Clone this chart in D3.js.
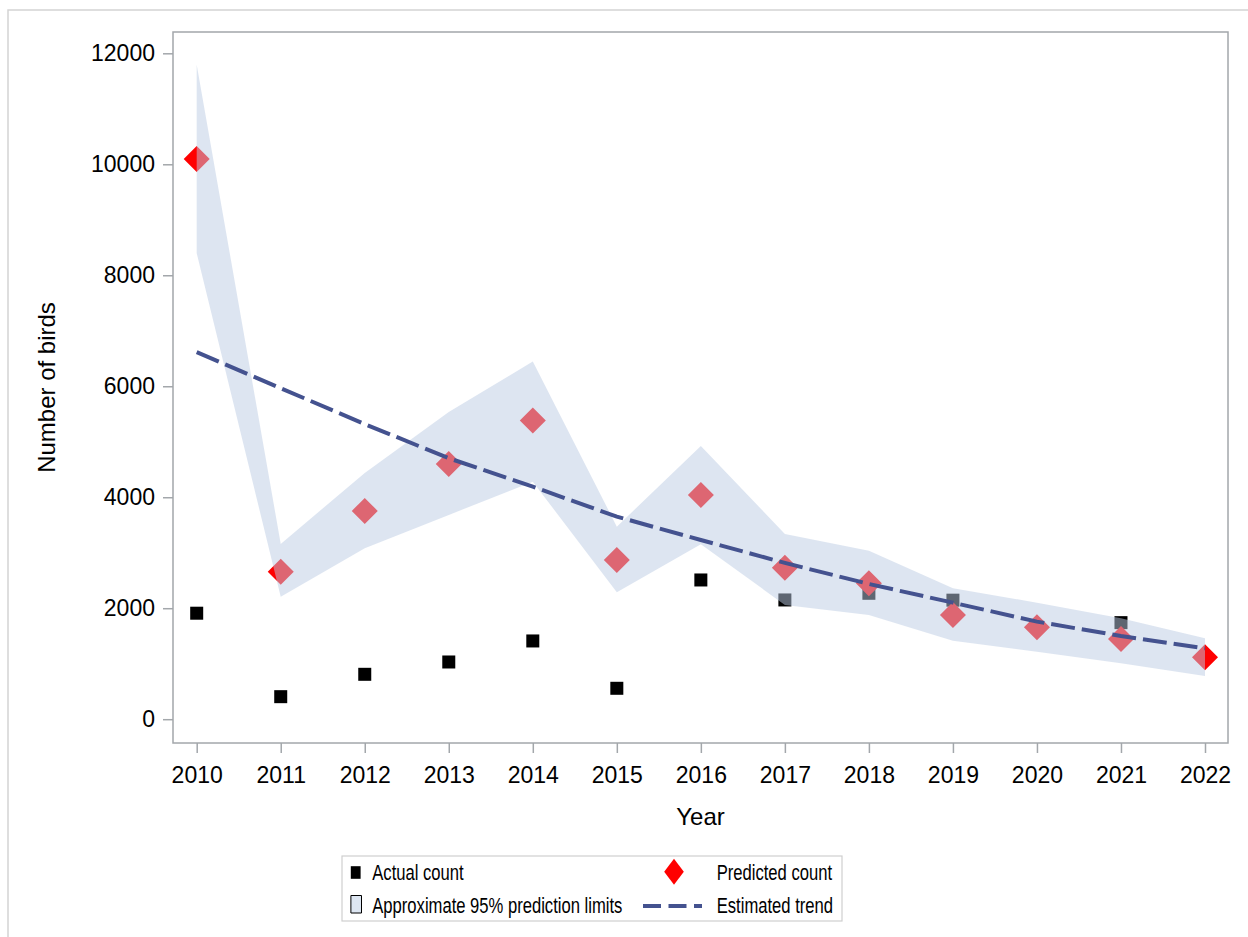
<!DOCTYPE html>
<html>
<head>
<meta charset="utf-8">
<script src="https://cdn.jsdelivr.net/npm/d3@7"></script>
<style>
  html, body { margin: 0; padding: 0; background: #fff; }
  svg { display: block; }
  text { font-family: "Liberation Sans", Arial, Helvetica, sans-serif; fill: #000; }
</style>
</head>
<body>
<svg id="chart" width="1248" height="937"></svg>
<script>
// Survey years and counts
const years = [2010, 2011, 2012, 2013, 2014, 2015, 2016, 2017, 2018, 2019, 2020, 2021, 2022];
const actualCount = [1910, 406, 809, 1031, 1410, 557, 2509, 2149, 2269, 2145, null, 1740, null];
const predictedCount = [10093, 2659, 3753, 4600, 5381, 2870, 4041, 2731, 2450, 1878, 1657, 1446, 1116];
const lowerLimit = [8398, 2208, 3081, 3681, 4281, 2288, 3153, 2059, 1878, 1415, 1217, 1008, 779];
const upperLimit = [11793, 3158, 4438, 5538, 6444, 3470, 4925, 3338, 3037, 2360, 2100, 1819, 1458];
const estimatedTrend = [6614, 5965, 5318, 4703, 4191, 3650, 3230, 2816, 2437, 2100, 1758, 1500, 1278];
const yTicks = [0, 2000, 4000, 6000, 8000, 10000, 12000];

const svg = d3.select("#chart");

// Plot frame
const frame = { left: 173, right: 1228, top: 32, bottom: 743 };
const axisGray = "#A3A7AB";

const x = d3.scaleLinear().domain([2010, 2022]).range([196.7, 1205]);
const y = d3.scaleLinear().domain([0, 12000]).range([719.2, 53.3]);

// Outer graph border
svg.append("rect")
  .attr("x", 8).attr("y", 10)
  .attr("width", 1400).attr("height", 1100)
  .attr("fill", "none").attr("stroke", "#D4D4D4").attr("stroke-width", 1.5);

// Axes
const yAxis = d3.axisLeft(y).tickValues(yTicks).tickSize(10).tickPadding(8).tickFormat(d3.format("d"));
const xAxis = d3.axisBottom(x).tickValues(years).tickSize(10).tickPadding(14).tickFormat(d3.format("d"));

const gy = svg.append("g").attr("transform", `translate(${frame.left},0)`).call(yAxis);
const gx = svg.append("g").attr("transform", `translate(0,${frame.bottom})`).call(xAxis);
[gx, gy].forEach(g => {
  g.select(".domain").remove();
  g.selectAll(".tick line").attr("stroke", axisGray).attr("stroke-width", 1.5);
  g.selectAll(".tick text").attr("font-size", 23).attr("fill", "#000")
    .style("font-family", "'Liberation Sans', Arial, sans-serif");
});

// Clip to plot area
svg.append("clipPath").attr("id", "plotClip")
  .append("rect")
  .attr("x", frame.left).attr("y", frame.top)
  .attr("width", frame.right - frame.left).attr("height", frame.bottom - frame.top);

const plot = svg.append("g").attr("clip-path", "url(#plotClip)");

const rows = years.map((yr, i) => ({
  year: yr,
  actual: actualCount[i],
  predicted: predictedCount[i],
  lower: lowerLimit[i],
  upper: upperLimit[i],
  trend: estimatedTrend[i]
}));

// Actual counts (black squares)
const sq = 13;
plot.selectAll("rect.actual")
  .data(rows.filter(d => d.actual != null))
  .join("rect")
  .attr("class", "actual")
  .attr("x", d => x(d.year) - sq / 2)
  .attr("y", d => y(d.actual) - sq / 2)
  .attr("width", sq).attr("height", sq)
  .attr("fill", "#000");

// Predicted counts (red diamonds)
const dh = 13;
const diamondPath = `M0,${-dh}L${dh},0L0,${dh}L${-dh},0Z`;
plot.selectAll("path.pred")
  .data(rows)
  .join("path")
  .attr("class", "pred")
  .attr("d", diamondPath)
  .attr("transform", d => `translate(${x(d.year)},${y(d.predicted)})`)
  .attr("fill", "#FF0000");

// Approximate 95% prediction limits (translucent band)
const band = d3.area()
  .x(d => x(d.year))
  .y0(d => y(d.lower))
  .y1(d => y(d.upper));
plot.append("path")
  .datum(rows)
  .attr("d", band)
  .attr("fill", "#BBCCE4")
  .attr("fill-opacity", 0.5);

// Estimated trend (dashed)
const trendColor = "#44528F";
const trendLine = d3.line().x(d => x(d.year)).y(d => y(d.trend));
plot.append("path")
  .datum(rows)
  .attr("d", trendLine)
  .attr("fill", "none")
  .attr("stroke", trendColor)
  .attr("stroke-width", 4)
  .attr("stroke-dasharray", "24 7");

// Plot frame on top
svg.append("rect")
  .attr("x", frame.left).attr("y", frame.top)
  .attr("width", frame.right - frame.left).attr("height", frame.bottom - frame.top)
  .attr("fill", "none").attr("stroke", axisGray).attr("stroke-width", 1.5);

// Axis titles
svg.append("text")
  .attr("x", (frame.left + frame.right) / 2).attr("y", 825)
  .attr("text-anchor", "middle").attr("font-size", 24)
  .text("Year");

svg.append("text")
  .attr("transform", `translate(55,${(frame.top + frame.bottom) / 2}) rotate(-90)`)
  .attr("text-anchor", "middle").attr("font-size", 24)
  .text("Number of birds");

// Legend
const legendBox = { x: 342, y: 856, w: 500, h: 65 };
svg.append("rect")
  .attr("x", legendBox.x).attr("y", legendBox.y)
  .attr("width", legendBox.w).attr("height", legendBox.h)
  .attr("fill", "#fff").attr("stroke", "#CFCFCF").attr("stroke-width", 1.2);

// Legend content is set in a horizontally condensed frame
const sx = 0.755;
const lg = svg.append("g").attr("transform", `translate(${legendBox.x},0) scale(${sx},1)`);
const lx = X => (X - legendBox.x) / sx;

lg.append("rect")
  .attr("x", lx(355.7) - sq / 2).attr("y", 872.5 - 6.3)
  .attr("width", sq).attr("height", 12.6)
  .attr("fill", "#000");
lg.append("text").attr("x", lx(372.3)).attr("y", 880).attr("font-size", 22).text("Actual count");

lg.append("rect")
  .attr("x", lx(350.9)).attr("y", 895.5)
  .attr("width", 10.6 / sx).attr("height", 17.5)
  .attr("fill", "#DDE6F2").attr("stroke", "#000").attr("stroke-width", 1)
  .attr("vector-effect", "non-scaling-stroke");
lg.append("text").attr("x", lx(372.3)).attr("y", 913).attr("font-size", 22).text("Approximate 95% prediction limits");

lg.append("path")
  .attr("d", diamondPath)
  .attr("transform", `translate(${lx(674)},871.7)`)
  .attr("fill", "#FF0000");
lg.append("text").attr("x", lx(716.7)).attr("y", 880).attr("font-size", 22).text("Predicted count");

lg.append("line")
  .attr("x1", lx(643)).attr("x2", lx(702))
  .attr("y1", 906).attr("y2", 906)
  .attr("stroke", trendColor).attr("stroke-width", 4)
  .attr("stroke-dasharray", `${18 / sx} ${7.5 / sx}`);
lg.append("text").attr("x", lx(716.7)).attr("y", 913).attr("font-size", 22).text("Estimated trend");
</script>
</body>
</html>
